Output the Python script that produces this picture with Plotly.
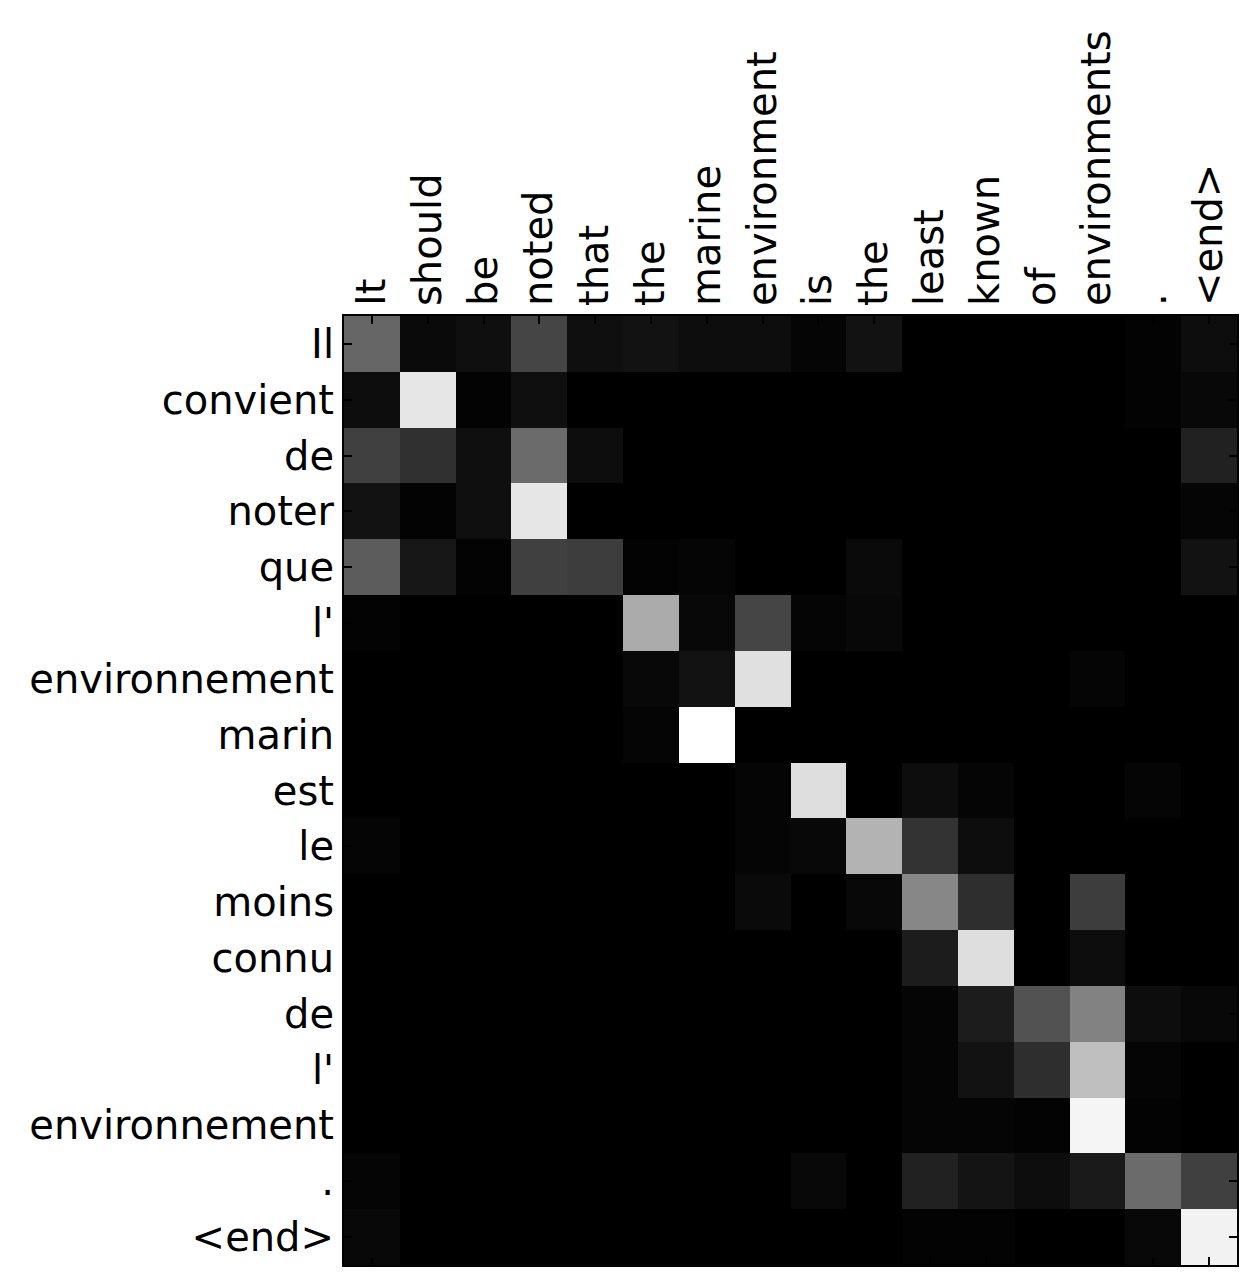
import plotly.graph_objects as go

# source (English) tokens along the top, target (French) tokens down the side
src_tokens = ["It", "should", "be", "noted", "that", "the", "marine", "environment",
              "is", "the", "least", "known", "of", "environments", ".", "<end>"]
tgt_tokens = ["Il", "convient", "de", "noter", "que", "l'", "environnement", "marin",
              "est", "le", "moins", "connu", "de", "l'", "environnement", ".", "<end>"]

# attention weights, one row per target token
row_il            = [0.40, 0.04, 0.06, 0.27, 0.06, 0.07, 0.05, 0.05, 0.02, 0.07, 0.00, 0.00, 0.00, 0.00, 0.01, 0.05]
row_convient      = [0.05, 0.90, 0.01, 0.06, 0.00, 0.00, 0.00, 0.00, 0.00, 0.00, 0.00, 0.00, 0.00, 0.00, 0.01, 0.03]
row_de            = [0.25, 0.19, 0.06, 0.42, 0.05, 0.00, 0.00, 0.00, 0.00, 0.00, 0.00, 0.00, 0.00, 0.00, 0.00, 0.13]
row_noter         = [0.07, 0.01, 0.06, 0.90, 0.00, 0.00, 0.00, 0.00, 0.00, 0.00, 0.00, 0.00, 0.00, 0.00, 0.00, 0.02]
row_que           = [0.36, 0.09, 0.01, 0.25, 0.24, 0.01, 0.02, 0.00, 0.00, 0.04, 0.00, 0.00, 0.00, 0.00, 0.00, 0.07]
row_l1            = [0.01, 0.00, 0.00, 0.00, 0.00, 0.67, 0.03, 0.27, 0.02, 0.03, 0.00, 0.00, 0.00, 0.00, 0.00, 0.00]
row_env1          = [0.00, 0.00, 0.00, 0.00, 0.00, 0.03, 0.07, 0.88, 0.00, 0.00, 0.00, 0.00, 0.00, 0.02, 0.00, 0.00]
row_marin         = [0.00, 0.00, 0.00, 0.00, 0.00, 0.02, 1.00, 0.00, 0.00, 0.00, 0.00, 0.00, 0.00, 0.00, 0.00, 0.00]
row_est           = [0.00, 0.00, 0.00, 0.00, 0.00, 0.00, 0.00, 0.02, 0.87, 0.00, 0.05, 0.02, 0.00, 0.00, 0.02, 0.00]
row_le            = [0.02, 0.00, 0.00, 0.00, 0.00, 0.00, 0.00, 0.02, 0.03, 0.70, 0.20, 0.05, 0.00, 0.00, 0.00, 0.00]
row_moins         = [0.00, 0.00, 0.00, 0.00, 0.00, 0.00, 0.00, 0.04, 0.00, 0.03, 0.53, 0.18, 0.00, 0.24, 0.00, 0.00]
row_connu         = [0.00, 0.00, 0.00, 0.00, 0.00, 0.00, 0.00, 0.00, 0.00, 0.00, 0.11, 0.87, 0.00, 0.05, 0.00, 0.00]
row_de2           = [0.00, 0.00, 0.00, 0.00, 0.00, 0.00, 0.00, 0.00, 0.00, 0.00, 0.02, 0.11, 0.32, 0.51, 0.05, 0.03]
row_l2            = [0.00, 0.00, 0.00, 0.00, 0.00, 0.00, 0.00, 0.00, 0.00, 0.00, 0.02, 0.07, 0.18, 0.75, 0.02, 0.00]
row_env2          = [0.00, 0.00, 0.00, 0.00, 0.00, 0.00, 0.00, 0.00, 0.00, 0.00, 0.02, 0.02, 0.01, 0.96, 0.01, 0.00]
row_dot           = [0.02, 0.00, 0.00, 0.00, 0.00, 0.00, 0.00, 0.00, 0.03, 0.00, 0.13, 0.08, 0.05, 0.10, 0.42, 0.25]
row_end           = [0.03, 0.00, 0.00, 0.00, 0.00, 0.00, 0.00, 0.00, 0.00, 0.00, 0.01, 0.01, 0.00, 0.00, 0.03, 0.95]

attention = [row_il, row_convient, row_de, row_noter, row_que, row_l1, row_env1, row_marin,
             row_est, row_le, row_moins, row_connu, row_de2, row_l2, row_env2, row_dot, row_end]

# numeric positions so repeated words ("the", "de", "l'") stay separate cells
xs = list(range(len(src_tokens)))
ys = list(range(len(tgt_tokens)))

fig = go.Figure(go.Heatmap(
    z=attention, x=xs, y=ys,
    colorscale=[[0, "black"], [1, "white"]],
    zmin=0, zmax=1, showscale=False,
))

font = dict(family="DejaVu Sans", size=40, color="black")
fig.update_xaxes(
    side="top", tickmode="array", tickvals=xs, ticktext=src_tokens, tickangle=-90,
    tickfont=font, ticks="inside", ticklen=8, tickwidth=1.5, tickcolor="black",
    showline=True, linecolor="black", linewidth=2, mirror="ticks",
    showgrid=False, zeroline=False, range=[-0.5, len(xs) - 0.5],
)
fig.update_yaxes(
    autorange=False, range=[len(ys) - 0.5, -0.5],
    tickmode="array", tickvals=ys, ticktext=tgt_tokens,
    tickfont=font, ticks="inside", ticklen=8, tickwidth=1.5, tickcolor="black",
    showline=True, linecolor="black", linewidth=2, mirror="ticks",
    showgrid=False, zeroline=False,
)
fig.update_layout(
    width=1260, height=1284,
    margin=dict(l=336, r=31, t=308, b=27),
    paper_bgcolor="white", plot_bgcolor="white",
)

fig.write_html("out.html")
